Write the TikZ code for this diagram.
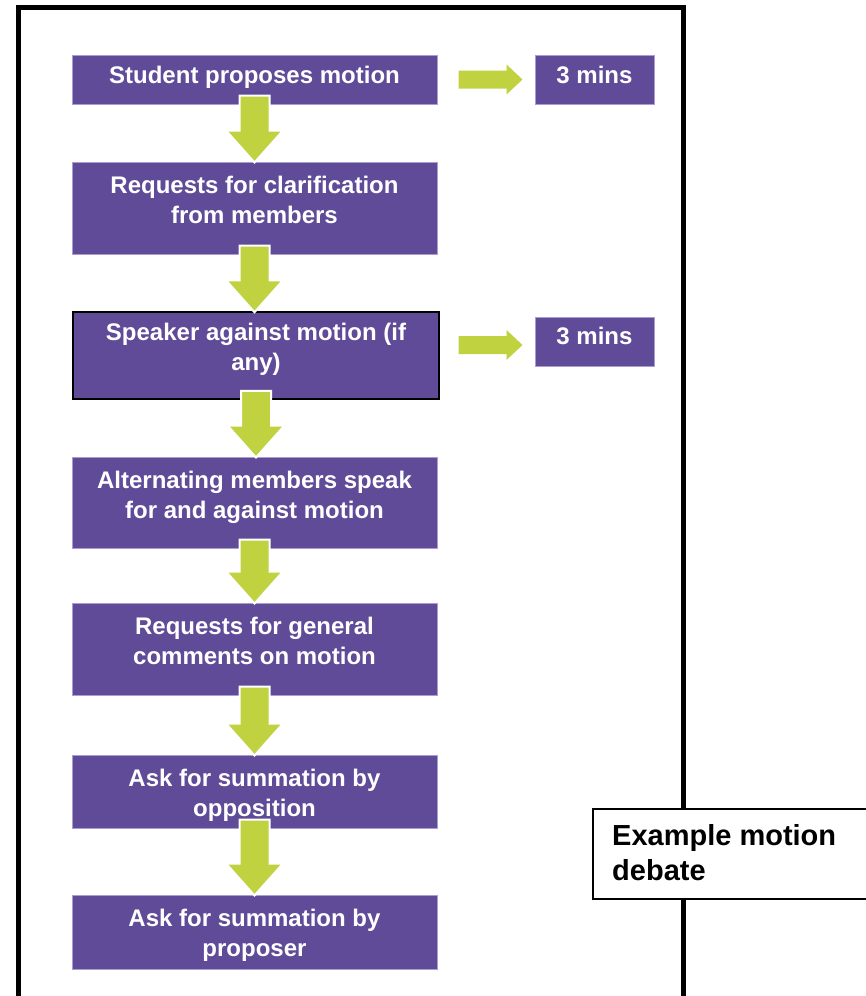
\documentclass[tikz,border=0pt]{standalone}
\usepackage{fontspec}
\setmainfont{Liberation Sans}
\usetikzlibrary{calc}
\definecolor{pur}{RGB}{96,75,153}
\definecolor{lime}{RGB}{192,210,64}
\definecolor{lav}{RGB}{170,158,208}
\tikzset{
  pbox/.style={fill=pur, draw=lav, line width=1pt, inner sep=0pt},
  pboxk/.style={fill=pur, draw=black, line width=1.5pt, inner sep=0pt},
  btext/.style={text=white, font=\bfseries\fontsize{24}{30}\selectfont, align=center, inner sep=0pt, anchor=base},
  exbox/.style={fill=white, draw=black, line width=1.5pt, inner sep=0pt},
  extext/.style={text=black, font=\bfseries\fontsize{29}{35}\selectfont, align=left, inner sep=0pt, anchor=base west},
  arrowfill/.style={fill=lime, draw=white, line width=2pt},
  frame/.style={draw=black, line width=5pt}
}
\newcommand\dnarrow[2]{\path[arrowfill] let \p1=(#1.south), \p2=(#2.north) in
  (\x1-15,\y1+9) -- (\x1+15,\y1+9) -- (\x1+15,\y2+31) -- (\x1+28.5,\y2+31) --
  (\x1,\y2-1) -- (\x1-28.5,\y2+31) -- (\x1-15,\y2+31) -- cycle;}
\newcommand\rtarrow[3]{\path[fill=lime] let \p1=(#1.east), \p2=(#2.west) in
  (\x2-76,\y2+#3+9) -- (\x2-28,\y2+#3+9) -- (\x2-28,\y2+#3+15) -- (\x2-12,\y2+#3) --
  (\x2-28,\y2+#3-15) -- (\x2-28,\y2+#3-9) -- (\x2-76,\y2+#3-9) -- cycle;}
\begin{document}
\begin{tikzpicture}[x=1pt,y=-1pt]
\useasboundingbox (0,0) rectangle (866,996);
\clip (0,0) rectangle (866,996);
% outer frame
\draw[frame] (18,1010) -- (18,7.5) -- (683.5,7.5) -- (683.5,1010);
% boxes
\node[pbox, minimum width=365pt, minimum height=49pt] (b1) at (254.5,79.5) {};
\node[pbox, minimum width=365pt, minimum height=92pt] (b2) at (254.5,208) {};
\node[pboxk, minimum width=366pt, minimum height=87pt] (b3) at (256,355.5) {};
\node[pbox, minimum width=365pt, minimum height=91pt] (b4) at (254.5,502.5) {};
\node[pbox, minimum width=365pt, minimum height=92pt] (b5) at (254.5,649) {};
\node[pbox, minimum width=365pt, minimum height=73pt] (b6) at (254.5,791.5) {};
\node[pbox, minimum width=365pt, minimum height=74pt] (b7) at (254.5,932) {};
\node[pbox, minimum width=119pt, minimum height=49pt] (m1) at (594.5,79.5) {};
\node[pbox, minimum width=119pt, minimum height=49pt] (m2) at (594.5,341.5) {};
% texts (base anchor = last line baseline)
\node[btext] (t1) at (254.5,83) {Student proposes motion};
\node[btext] (t2) at (254.5,223) {Requests for clarification\\from members};
\node[btext] (t3) at (256,370) {Speaker against motion (if\\any)};
\node[btext] (t4) at (254.5,518) {Alternating members speak\\for and against motion};
\node[btext] (t5) at (254.5,664) {Requests for general\\comments on motion};
\node[btext] (t6) at (254.5,816) {Ask for summation by\\opposition};
\node[btext] (t7) at (254.5,956) {Ask for summation by\\proposer};
\node[btext] (tm1) at (594.5,83) {3 mins};
\node[btext] (tm2) at (594.5,344) {3 mins};
% arrows
\dnarrow{b1}{b2}
\dnarrow{b2}{b3}
\dnarrow{b3}{b4}
\dnarrow{b4}{b5}
\dnarrow{b5}{b6}
\dnarrow{b6}{b7}
\rtarrow{b1}{m1}{0}
\rtarrow{b3}{m2}{-3.5}
% example box
\node[exbox, minimum width=277pt, minimum height=90pt] (ex) at (731.5,854) {};
\node[extext] (tx) at (612,880) {Example motion\\debate};
\end{tikzpicture}
\end{document}
